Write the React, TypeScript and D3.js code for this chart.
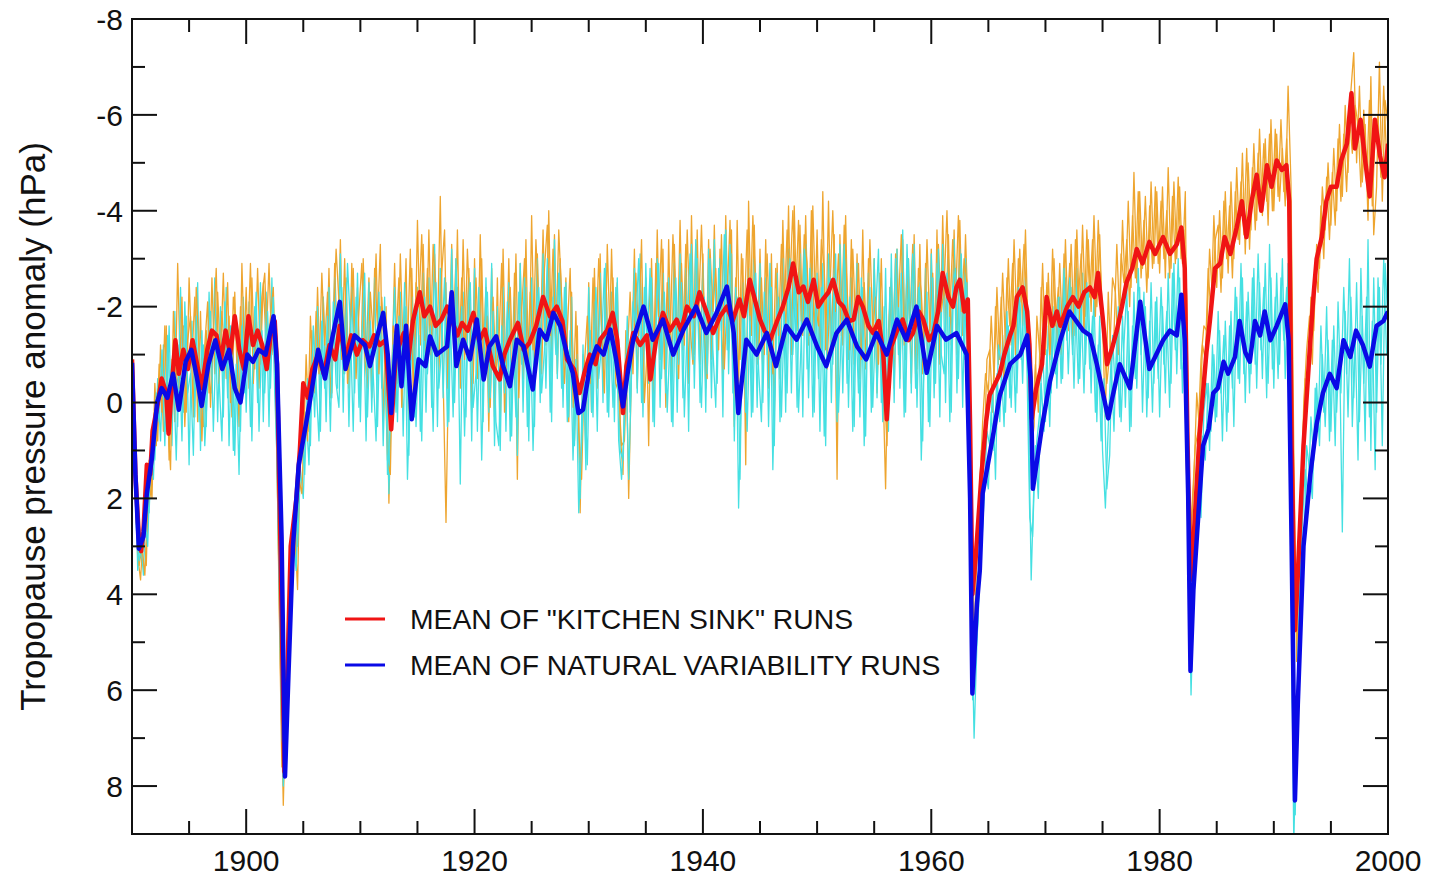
import React from 'react';
import * as d3 from 'd3';

const W = 1435;
const H = 877;
const PLOT = { left: 132, right: 1388, top: 19, bottom: 834 };

const X_DOMAIN: [number, number] = [1890, 2000];
const Y_DOMAIN: [number, number] = [-8, 9];
const X_LABELS = [1900, 1920, 1940, 1960, 1980, 2000];
const X_MINOR = [1895, 1905, 1910, 1915, 1925, 1930, 1935, 1945, 1950, 1955, 1965, 1970, 1975, 1985, 1990, 1995];
const Y_LABELS = [-8, -6, -4, -2, 0, 2, 4, 6, 8];
const Y_MINOR = [-7, -5, -3, -1, 1, 3, 5, 7];

const Y_TITLE = 'Tropopause pressure anomaly (hPa)';
const LEGEND = ['MEAN OF "KITCHEN SINK" RUNS', 'MEAN OF NATURAL VARIABILITY RUNS'];

// individual runs, quarterly values
const RUN_STEP = 0.25;
const RUN_A_START = 1890;
const RUN_B_START = 1890.125;

const kitchenSinkRunA: number[] = [
  -0.5, 1.5, 3.2, 3.7, 2.6, 3.4, 1.2, 2.0, -0.4, 0.8, -1.2, 0.6, -1.6, 1.2, -0.9, 0.4,
  -2.9, -0.5, -1.6, 0.2, -2.6, -0.9, -2.2, 0.4, -1.9, 0.5, -1.5, -0.2, -2.6, -0.6, -2.3, -0.9,
  -2.7, -0.5, -1.8, 0.3, -2.3, -0.2, -2.0, -0.6,
  -2.4, -0.3, -2.6, -0.7, -2.8, -0.8, -2.5, -1.2, -2.9, -1.0, -1.6, 2.0, 5.5, 8.4, 6.0, 4.2,
  3.0, 2.6, 3.9, 0.8, 1.2, -1.0, 0.6, -1.5, -0.2, -2.4, -0.4, -2.2, -0.5, -2.8, -0.2, -2.9,
  -1.0, -3.4, -0.6, -2.6, -0.3, -2.9, -0.8, -2.4,
  -0.2, -3.0, -0.9, -2.6, -0.1, -2.8, -1.6, -3.3, 0.4, -2.0, 2.1, -0.5, -2.9, -0.4, -3.1, -1.0,
  -3.0, 0.6, -2.8, -0.6, -3.8, -1.2, -3.3, -0.8, -3.6, -0.9, -3.1, -1.4, -4.3, -0.5, 2.5, -1.0,
  -3.3, -0.7, -3.6, -0.3, -3.4, -1.0, -2.8, 0.2,
  -3.0, -0.5, -3.5, -0.9, -2.4, 0.6, -2.8, 0.3, -2.6, 0.5, -3.2, -0.4, -3.0, -0.2, -2.7, 1.6,
  -2.9, -0.5, -3.4, -0.3, -3.9, -0.8, -3.1, -1.0, -3.6, -1.2, -4.0, -0.9, -3.5, -0.6, -3.0, -1.1,
  -2.6, 0.4, -2.3, 0.8, -1.6, 2.3, -1.0, 1.0,
  -2.5, 0.2, -2.8, -0.3, -3.1, -0.4, -2.7, -0.6, -3.2, -0.9, -2.5, 0.6, 1.5, -1.5, 2.0, -0.8,
  -3.2, -0.3, -2.9, -0.7, -2.6, 0.9, -3.0, -0.5, -3.6, -0.9, -3.2, 0.1, -3.4, -0.6, -3.3, -1.0,
  -3.8, -1.1, -3.3, -0.4, -3.9, -1.0, -3.6, -0.8,
  -3.1, -0.3, -3.4, -0.9, -3.7, -0.8, -3.2, -0.5, -3.9, -1.2, -3.6, 0.5, -3.8, -0.9, -3.0, 1.3,
  -4.2, -1.4, -3.7, -0.8, -3.2, -0.6, -3.4, -0.3, -3.1, 0.3, -2.9, -0.5, -3.8, -1.2, -4.1, -1.0,
  -4.1, -1.5, -3.7, -1.4, -3.9, -1.2, -4.0, -1.3,
  -3.6, -0.9, -4.4, -1.1, -4.2, -1.0, -3.5, 1.6, -3.5, -1.2, -3.9, -0.9, -3.4, -0.8, -3.1, -0.5,
  -3.6, -0.7, -3.0, -0.4, -3.0, -0.2, -2.7, -0.6, 1.8, -1.5, -2.6, -0.3, -3.2, -0.5, -3.4, -0.9,
  -3.0, -0.4, -3.5, -0.7, -3.3, -0.6, -2.9, -0.2,
  -3.2, -0.5, -3.6, -0.8, -3.9, -1.5, -3.5, -1.2, -3.6, -1.0, -3.8, -1.4, -3.5, -1.6, 3.0, 4.8,
  3.2, 1.8, 0.4, -0.6, -0.2, -1.8, -0.5, -2.4, -0.9, -2.7, -1.2, -3.0, -1.2, -3.4, -1.6, -3.2,
  -1.6, -3.6, -1.2, 1.0, 0.5, -1.8, -1.0, -2.9,
  -1.0, -2.7, -0.9, -3.0, -1.2, -2.9, -1.3, -3.4, -1.5, -3.3, -1.4, -3.6, -1.6, -3.7, -1.8, -3.4,
  -1.9, -3.9, -2.0, -3.5, -1.6, 0.3, -2.3, -0.8, -1.4, -3.3, -1.7, -3.8, -2.2, -4.2, -2.4, -4.8,
  -2.5, -4.4, -2.8, -4.3, -2.6, -4.6, -2.9, -4.4,
  -2.7, -4.5, -2.6, -4.9, -2.8, -4.6, -3.0, -4.5, -2.9, -4.4, 2.0, 2.8, 1.6, -0.2, 0.6, -1.2,
  -0.9, -2.8, -1.8, -3.9, -2.4, -4.0, -2.6, -4.4, -2.7, -4.6, -3.0, -4.9, -3.3, -5.2, -3.1, -5.0,
  -3.6, -5.4, -3.8, -5.7, -3.9, -5.5, -3.7, -5.9,
  -4.0, -5.6, -4.2, -5.3, -4.1, -6.6, -4.6, 1.0, 5.4, 3.2, 1.0, -0.5, -0.4, -2.2, -1.5, -3.3,
  -2.8, -4.5, -3.6, -5.0, -3.7, -5.3, -4.0, -5.8, -4.3, -6.2, -4.8, -6.5, -7.3, -5.0, -6.6, -4.6,
  -5.8, -3.8, -6.8, -3.5, -4.5, -7.1, -4.2, -6.3,
  -5.8,
];

const kitchenSinkRunB: number[] = [
  0.5, 2.4, 3.4, 3.0, 3.6, 2.2, 1.9, 0.9, 0.9, -0.8, 0.2, -1.6, 0.3, 1.4, -1.9, -0.6,
  -0.3, -2.2, 0.5, -1.3, -1.8, 0.3, -2.4, -1.0, 0.8, -1.2, -2.1, 0.1, -1.4, -2.8, -0.4, -1.9,
  -0.9, -2.5, 0.0, -2.2, -1.5, 0.5, -2.9, -0.8,
  -1.1, -2.9, -0.4, -1.8, -0.3, -2.2, -2.7, -0.9, -1.8, -2.4, -0.2, 4.0, 7.6, 7.2, 5.0, 3.5,
  2.4, 3.3, 1.6, 1.9, 0.2, 0.8, -1.8, -0.3, -1.9, -0.6, -2.7, -1.2, -2.3, -0.1, -1.6, -3.2,
  -2.1, -0.9, -3.0, -0.4, -1.7, -2.8, -0.5, -1.9,
  -2.9, -1.0, -0.3, -2.3, -1.4, -3.1, -0.6, -2.2, -1.0, 1.2, 1.5, -1.6, -1.3, -2.6, 0.1, -2.0,
  -1.1, -3.2, -0.2, -2.5, -2.0, -3.5, -1.3, -2.8, -1.0, -3.3, -2.2, -0.6, -2.7, -3.6, -0.3, -2.1,
  -1.4, -3.0, -0.8, -2.6, -0.9, -3.2, -1.7, -0.4,
  -2.6, -1.1, -3.0, -0.5, -1.8, 0.1, -2.2, -0.6, -1.2, -2.9, 0.2, -1.7, -2.4, -0.6, -3.1, -0.1,
  -1.9, -3.0, -0.7, -2.3, -1.1, -3.4, -2.0, -0.6, -2.8, -3.7, -1.4, -3.2, -1.2, -3.6, -2.2, -0.4,
  -1.5, -2.8, 0.1, -1.9, 0.6, 1.6, -0.8, -1.8,
  -0.4, -2.6, -1.2, -3.0, -1.6, -0.2, -3.3, -1.3, -2.6, -0.4, -0.2, 0.9, 0.8, -0.9, -2.3, -0.6,
  -2.7, -1.4, -3.4, 0.0, -1.1, -2.4, -0.2, -2.9, -1.8, -3.4, -0.7, -2.5, -1.3, -3.5, -2.1, -0.5,
  -2.9, -1.2, -3.6, -1.6, -0.8, -3.3, -1.9, -3.7,
  -1.6, -0.5, -3.2, -1.9, -2.8, -1.1, -3.5, -0.7, -2.2, -3.8, -1.0, -2.6, -0.4, -3.1, -1.8, -3.6,
  -1.7, -3.9, -2.3, -0.9, -2.6, -1.0, -3.1, -1.3, -0.6, -2.8, -1.4, -3.3, -1.9, -3.6, -2.5, -4.0,
  -2.2, -3.8, -1.7, -3.5, -2.9, -1.4, -4.1, -2.0,
  -1.6, -3.4, -2.8, -0.7, -2.3, -4.0, -1.9, -3.1, -1.4, -3.7, -2.4, -1.1, -3.2, -1.6, -2.9, -0.9,
  -2.5, -1.2, -3.4, -1.5, -2.2, -0.8, -3.0, -0.4, 0.9, -2.4, -1.0, -3.1, -2.0, -3.5, -1.2, -2.7,
  -1.6, -3.3, -0.6, -2.8, -2.3, -1.1, -3.4, -1.5,
  -2.7, -0.9, -3.3, -1.9, -2.4, -4.0, -1.8, -3.4, -2.1, -3.9, -1.9, -3.0, -2.5, 1.0, 4.2, 3.5,
  2.6, 1.0, 1.2, -0.9, -1.1, 0.2, -2.0, -0.8, -2.2, -0.4, -2.6, -1.6, -2.9, -1.0, -3.0, -2.1,
  -3.3, -2.0, -0.2, 0.3, -0.8, 0.2, -2.4, -1.1,
  -2.5, -1.0, -3.2, -1.6, -2.4, -1.0, -3.1, -1.8, -2.9, -1.2, -3.4, -2.1, -3.1, -1.5, -3.6, -2.2,
  -3.4, -1.8, -3.8, -2.4, -1.2, -0.4, -1.0, -2.6, -2.3, -1.0, -3.1, -2.5, -3.4, -2.0, -3.9, -2.6,
  -4.4, -2.6, -3.8, -2.3, -4.1, -2.8, -4.5, -2.9,
  -4.2, -3.0, -4.0, -2.6, -4.3, -2.9, -4.7, -3.0, -3.6, -2.2, 3.2, 2.0, 0.9, 0.6, -0.9, -1.6,
  -1.5, -3.2, -2.2, -3.4, -3.7, -2.3, -4.2, -3.0, -4.1, -2.6, -4.4, -3.4, -4.6, -3.5, -5.3, -3.2,
  -4.9, -3.6, -5.2, -4.1, -5.4, -4.2, -5.6, -4.0,
  -5.7, -4.3, -5.9, -4.4, -5.5, -4.0, 2.6, 4.6, 4.0, 2.1, 0.0, -1.1, -1.8, -0.8, -2.9, -2.3,
  -4.1, -3.0, -4.7, -3.4, -4.8, -3.7, -5.5, -4.2, -5.6, -4.4, -6.0, -5.2, -6.2, -5.8, -4.5, -6.1,
  -4.6, -6.3, -4.1, -5.6, -6.0, -4.7, -6.6, -5.1,
];

const naturalRunA: number[] = [
  -1.0, 1.0, 3.5, 2.8, 3.6, 1.8, 2.3, 0.6, 1.2, -0.5, 0.8, -1.2, 0.6, -1.6, 0.9, -1.9,
  0.5, -2.4, 0.2, -1.8, 1.3, -1.7, 0.3, -2.5, 1.0, -1.2, 0.5, -2.3, -0.2, -2.6, 0.4, -2.0,
  0.3, -2.4, 0.9, -1.6, 1.1, -1.3, 0.6, -2.2,
  0.2, -2.1, 0.8, -2.0, 0.0, -2.5, 0.4, -2.3, 0.5, -2.6, -0.2, 1.5, 5.0, 8.0, 6.4, 3.8,
  4.2, 2.2, 3.0, 1.4, 2.0, 0.2, 1.3, -1.0, 0.3, -2.0, 0.6, -2.2, 0.4, -2.4, -0.1, -2.6,
  -0.3, -3.1, 0.2, -2.5, 0.5, -2.4, -0.2, -2.7,
  0.4, -2.2, 0.8, -2.5, 0.2, -2.6, 0.5, -2.0, 0.9, -1.4, 1.9, -0.6, -2.4, 0.4, -2.3, 0.7,
  -2.0, 1.1, -2.2, 0.3, -2.4, 0.6, -2.7, 0.2, -2.6, 0.1, -3.3, 0.5, -2.8, -0.1, -2.5, 0.4,
  -3.2, 0.0, -2.4, 1.7, -2.3, 0.3, -2.6, 0.8,
  -2.8, 0.6, -2.1, 0.4, -2.6, 0.2, -2.9, 0.9, -2.0, 1.0, -2.4, 0.6, -2.5, 0.7, -2.2, 1.1,
  -2.9, 0.2, -2.4, 0.8, -2.6, 0.5, -3.0, 0.0, -3.1, -0.3, -2.8, 0.4, -3.4, -0.5, -2.9, 0.1,
  -2.5, 0.3, -2.2, 0.9, -1.0, 2.0, -1.2, 1.4,
  -2.4, 0.2, -2.1, 0.6, -2.7, 0.0, -2.9, 0.3, -2.3, 0.4, -2.6, 1.0, 1.2, -1.0, 1.6, -0.6,
  -2.8, -0.2, -3.1, 0.3, -2.9, -0.4, -2.6, 0.5, -3.0, 0.1, -2.7, -0.2, -2.6, 0.4, -2.9, 0.2,
  -3.1, -0.1, -2.8, 0.6, -3.3, -0.3, -3.0, 0.0,
  -2.9, 0.2, -3.2, -0.1, -3.4, -0.4, -3.0, 0.3, -3.6, -0.6, -3.1, 0.8, -2.2, 1.6, -2.5, 0.2,
  -2.8, 0.3, -3.0, 0.1, -2.9, 0.0, -2.6, 0.5, -2.4, 0.9, -2.7, 0.4, -3.0, 0.2, -3.2, -0.2,
  -2.8, 0.1, -3.1, 0.3, -3.3, -0.1, -2.9, 0.2,
  -2.7, 0.6, -2.9, 0.9, -3.1, 0.0, -2.8, 0.4, -3.3, -0.2, -3.0, 0.1, -2.6, 0.5, -2.9, 0.3,
  -2.4, 0.7, -2.7, 0.2, -3.0, -0.1, -2.5, 0.4, -2.8, 0.6, -3.1, 0.0, -3.2, -0.3, -3.6, 0.2,
  -3.0, -0.2, -3.3, 0.1, -2.5, 0.8, -2.8, 0.4,
  -3.1, -0.1, -2.9, 0.3, -3.3, 0.0, -3.0, 0.2, -3.4, -0.2, -3.2, 0.1, -3.0, 0.3, 4.0, 7.0,
  5.0, 3.6, 2.6, 1.4, 1.8, 0.2, 1.0, -0.6, 0.4, -1.4, 0.2, -1.6, 0.1, -2.0, -0.2, -2.3,
  -0.4, -2.6, -0.1, 3.7, 1.6, 0.8, 0.2, -1.2,
  0.4, -1.6, -0.2, -2.0, -0.3, -2.2, -0.5, -2.6, -0.6, -2.4, -0.3, -2.8, -0.5, -2.7, -0.8, -2.4,
  -0.2, -2.3, 0.4, -1.8, 1.0, 2.2, 0.5, -0.9, 0.6, -1.4, 0.3, -1.8, 0.1, -1.9, 0.5, -2.3,
  -0.3, -2.4, 0.2, -2.0, -0.1, -2.5, -0.4, -2.2,
  0.3, -2.0, -0.2, -2.7, -0.4, -2.9, -0.6, -2.6, -0.2, -2.4, 2.5, 6.1, 3.8, 2.0, 1.5, 0.7,
  1.2, -0.4, 0.6, -1.0, 0.3, -1.5, 0.8, -1.7, 0.2, -1.9, 0.5, -2.2, -0.4, -2.6, 0.0, -2.3,
  -0.6, -2.8, -0.3, -2.5, -0.5, -2.9, -0.4, -2.6,
  -0.3, -2.7, -0.8, -3.0, -0.5, -2.9, 3.5, 9.2, 6.5, 4.2, 2.5, 1.4, 2.0, 0.3, 1.2, -0.4,
  0.9, -1.0, 0.5, -1.3, 0.6, -1.6, 0.2, -1.2, 2.7, -1.9, 0.3, -2.2, -0.1, -2.5, 0.4, -1.8,
  0.8, -3.4, 1.0, -2.6, 0.2, -2.4, 0.9, -2.9,
  -1.6,
];

const naturalRunB: number[] = [
  0.2, 2.6, 3.3, 3.0, 2.4, 3.0, 1.0, 1.6, -0.2, 0.4, -1.1, 0.9, -1.4, 0.2, -0.8, 1.2,
  -1.2, 0.8, -2.1, -0.2, -0.6, 1.1, -1.8, 0.4, -1.5, 0.9, -0.4, -1.9, 0.6, -1.4, -0.5, 0.8,
  -2.1, -0.1, -1.6, 1.0, -0.8, 1.5, -1.6, -0.2,
  -1.7, 0.5, -0.9, -2.3, 0.6, -1.5, -0.2, -1.9, -0.3, -2.2, 0.4, 3.6, 7.0, 7.4, 4.6, 3.2,
  2.8, 3.5, 1.6, 0.8, 1.5, -0.5, 0.9, -1.6, -0.4, 0.8, -1.7, -0.3, -1.8, 0.6, -2.1, -0.4,
  0.1, -2.4, -0.6, -2.9, -1.6, 0.6, -2.2, 0.1,
  -1.3, -2.7, 0.3, -1.7, -0.6, 0.8, -2.3, -0.3, -2.2, 1.5, 0.4, -1.2, 0.2, -1.8, -0.3, -2.5,
  1.6, -0.4, -1.9, 0.5, -1.4, 0.8, -2.2, -0.6, -1.6, 0.6, -2.5, -0.3, -1.2, -2.6, 0.5, -1.8,
  0.3, -3.0, -0.8, -2.0, 0.7, -1.5, -2.5, 0.1,
  -0.6, -2.4, 1.2, -1.4, -2.3, -0.1, -1.9, 0.4, 0.9, -1.6, -0.2, -2.1, 0.8, -1.3, 0.3, -2.3,
  -0.8, -2.6, 0.5, -1.6, 1.0, -1.2, -2.4, -0.2, -1.1, -3.0, 0.2, -2.2, -1.0, -2.7, -0.3, -2.4,
  0.4, -1.5, 1.2, -0.9, 2.3, 0.9, -0.6, 1.3,
  -1.5, 0.3, -2.4, -0.5, -1.2, -2.8, 0.2, -1.6, 0.1, -2.4, 0.8, 1.6, 0.5, -1.8, 0.2, -2.1,
  -1.6, -3.0, 0.0, -2.4, -1.2, -2.8, 0.4, -1.5, -2.9, -0.5, -2.3, 0.2, -1.4, 0.5, -2.6, -0.8,
  -2.5, 0.3, -1.6, -3.1, -0.9, -3.4, -1.3, 0.1,
  -2.2, -0.6, -3.0, -1.1, 0.1, -2.8, -1.5, -3.5, -1.1, -3.3, -0.2, -2.4, 2.2, -0.4, -2.1, 0.6,
  -1.8, 0.2, -2.7, -0.7, 0.4, -2.3, -1.0, -2.9, 1.4, -1.2, -2.2, 0.3, -1.9, -0.2, -3.0, -1.0,
  -2.5, 0.2, -1.4, -3.2, -0.7, -2.8, 0.3, -2.1,
  -0.5, -2.4, 0.7, -1.3, -2.6, -0.8, -3.1, 0.2, -1.5, -3.3, -0.4, -2.2, 0.6, -1.9, -0.2, -2.6,
  0.9, -1.5, -2.4, 0.1, -1.8, -3.2, 0.0, -2.0, 0.2, -2.4, -1.1, -3.0, -1.0, -2.7, 0.3, -3.3,
  -1.3, -3.1, -0.3, -2.4, 1.2, -1.0, -2.3, 0.5,
  -2.6, -0.4, -3.2, -1.0, -0.6, -2.7, 0.4, -2.4, -2.8, -0.5, -3.1, -0.9, -2.5, 2.5, 6.2, 5.4,
  4.4, 2.2, 2.0, 0.6, 0.9, -0.3, 1.6, -1.2, -0.8, 0.5, -1.9, -0.1, -1.6, 0.2, -2.4, -0.9,
  -2.2, -0.8, 2.4, 2.8, 0.9, 2.0, -0.4, 0.6,
  -1.1, 0.5, -1.8, -0.6, -2.2, -0.4, -2.8, -1.3, -2.6, -1.0, -2.2, -0.4, -2.1, -0.2, -2.5, -0.7,
  -1.8, 0.2, -1.2, 0.8, -0.5, 1.8, 1.1, -1.4, -0.2, -2.0, 0.4, -1.2, -2.4, 0.6, -1.6, -0.5,
  -2.8, -1.0, -2.3, 0.3, -1.7, 0.2, -2.1, -0.5,
  -2.4, -0.8, -1.9, 0.1, -2.7, -1.1, -3.0, -0.7, -2.5, 0.2, 4.6, 4.2, 2.9, 1.2, 2.4, 0.2,
  -0.4, 1.0, -1.2, 0.4, -1.9, -0.2, -1.4, 0.6, -1.6, -0.3, -2.4, -0.5, -2.9, -0.6, -2.1, -0.2,
  -2.6, -0.8, -3.1, -1.1, -2.4, -0.1, -3.3, -0.7,
  -2.2, -0.5, -2.6, -1.3, -2.4, -0.8, 6.2, 8.6, 5.3, 3.1, 3.3, 0.9, 1.4, 2.0, -0.3, 0.6,
  -1.6, 0.2, -2.0, 0.8, -1.3, 0.9, -2.1, -0.2, -2.4, -0.6, -3.0, 0.5, -1.4, 1.2, -2.8, -0.4,
  -2.2, 0.3, -1.7, 1.4, -2.6, -0.8, -3.0, -1.0,
];

// ensemble means [year, hPa]
const kitchenSinkMean: [number, number][] = [
  [1890.0, -0.9], [1890.3, 1.5], [1890.6, 2.8], [1890.8, 3.1], [1891.0, 2.7], [1891.3, 1.3], [1891.6, 1.5], [1891.8, 0.6],
  [1892.2, 0.1], [1892.6, -0.5], [1893.0, -0.2], [1893.2, 0.65], [1893.5, -0.4], [1893.8, -1.3], [1894.1, -0.6], [1894.5, -1.1],
  [1894.9, -0.7], [1895.3, -1.3], [1895.7, -0.8], [1896.1, -0.3], [1896.6, -1.1], [1897.0, -1.5], [1897.4, -1.4], [1897.8, -0.9],
  [1898.2, -1.5], [1898.6, -1.0], [1899.0, -1.8], [1899.4, -1.1], [1899.8, -0.7], [1900.2, -1.8], [1900.6, -1.2], [1901.0, -1.5],
  [1901.4, -1.2], [1901.8, -0.7], [1902.2, -1.5], [1902.5, -1.7], [1902.7, -0.8], [1903.0, 3.0], [1903.35, 7.7], [1903.6, 5.8],
  [1903.9, 3.0], [1904.1, 2.6], [1904.4, 2.0], [1904.7, 1.0], [1905.0, -0.4], [1905.4, -0.1], [1905.8, -0.7], [1906.3, -1.0],
  [1906.8, -0.6], [1907.3, -1.2], [1907.8, -0.9], [1908.2, -1.6], [1908.7, -0.9], [1909.2, -1.4], [1909.7, -1.0], [1910.2, -1.3],
  [1910.8, -1.17], [1911.2, -1.4], [1911.7, -1.2], [1912.2, -1.3], [1912.7, 0.56], [1913.1, -1.0], [1913.8, -1.45], [1914.2, -0.9],
  [1914.6, -1.7], [1915.2, -2.3], [1915.6, -1.8], [1916.1, -2.0], [1916.6, -1.6], [1917.1, -1.73], [1917.6, -2.0], [1918.0, -1.73],
  [1918.5, -1.4], [1918.9, -1.66], [1919.4, -1.5], [1919.9, -1.87], [1920.4, -1.3], [1920.9, -1.52], [1921.6, -0.76], [1922.2, -0.48],
  [1922.6, -1.0], [1923.1, -1.31], [1923.8, -1.66], [1924.3, -1.1], [1924.8, -1.24], [1925.4, -1.6], [1926.0, -2.2], [1926.6, -1.8],
  [1927.2, -2.0], [1927.7, -1.7], [1928.1, -0.9], [1928.7, -0.7], [1929.2, -0.2], [1929.6, -0.6], [1930.1, -1.0], [1930.6, -0.8],
  [1931.0, -1.31], [1931.6, -1.5], [1932.1, -1.87], [1932.5, -1.3], [1932.8, -0.4], [1933.0, 0.22], [1933.3, -0.76], [1933.9, -1.45],
  [1934.5, -1.2], [1935.1, -1.4], [1935.4, -0.48], [1935.9, -1.3], [1936.5, -1.87], [1937.1, -1.5], [1937.7, -1.73], [1938.1, -1.5],
  [1938.6, -2.0], [1939.2, -1.8], [1939.7, -2.3], [1940.3, -1.9], [1940.9, -1.45], [1941.5, -1.8], [1942.1, -2.0], [1942.6, -1.7],
  [1943.2, -2.15], [1943.6, -1.8], [1944.1, -2.56], [1944.6, -2.1], [1945.0, -1.73], [1945.4, -1.5], [1945.9, -1.31], [1946.5, -1.7],
  [1947.0, -2.0], [1947.5, -2.4], [1947.9, -2.9], [1948.4, -2.3], [1948.8, -2.42], [1949.2, -2.1], [1949.7, -2.56], [1950.1, -2.0],
  [1950.5, -2.15], [1951.0, -2.3], [1951.4, -2.56], [1951.9, -2.1], [1952.3, -2.0], [1952.8, -1.7], [1953.2, -1.73], [1953.6, -2.2],
  [1954.0, -2.0], [1954.5, -1.6], [1954.9, -1.45], [1955.4, -1.7], [1955.8, -1.0], [1956.1, 0.35], [1956.5, -1.17], [1957.0, -1.5],
  [1957.5, -1.73], [1958.0, -1.3], [1958.4, -1.45], [1958.9, -1.9], [1959.3, -1.73], [1959.8, -1.3], [1960.2, -1.45], [1960.6, -1.9],
  [1961.0, -2.7], [1961.5, -2.2], [1961.9, -2.0], [1962.2, -2.4], [1962.5, -2.56], [1962.9, -1.9], [1963.2, -2.15], [1963.4, 0.5],
  [1963.6, 4.0], [1963.9, 3.2], [1964.4, 1.5], [1964.8, 0.4], [1965.1, -0.15], [1965.6, -0.4], [1966.0, -0.6], [1966.4, -1.0],
  [1966.9, -1.4], [1967.2, -1.6], [1967.5, -2.2], [1968.0, -2.4], [1968.4, -1.9], [1968.6, -1.2], [1968.8, 0.33], [1969.2, -0.3],
  [1969.7, -0.8], [1970.1, -2.2], [1970.6, -1.6], [1971.0, -1.9], [1971.3, -1.6], [1971.9, -2.0], [1972.4, -2.2], [1972.9, -2.0],
  [1973.4, -2.3], [1973.9, -2.4], [1974.3, -2.2], [1974.6, -2.7], [1975.0, -1.8], [1975.4, -0.8], [1975.8, -1.1], [1976.25, -1.5],
  [1976.7, -2.0], [1977.1, -2.5], [1977.6, -2.8], [1978.0, -3.2], [1978.5, -2.9], [1979.1, -3.35], [1979.6, -3.1], [1980.3, -3.45],
  [1980.9, -3.1], [1981.5, -3.3], [1981.9, -3.65], [1982.2, -2.8], [1982.45, 0.9], [1982.7, 3.7], [1982.96, 2.9], [1983.25, 1.7],
  [1983.5, 0.65], [1983.8, -0.2], [1984.1, -1.05], [1984.4, -1.7], [1984.85, -2.8], [1985.3, -2.9], [1985.7, -3.45], [1986.2, -3.1],
  [1986.75, -3.65], [1987.2, -4.2], [1987.6, -3.45], [1988.06, -4.2], [1988.5, -4.75], [1988.9, -4.0], [1989.4, -4.95], [1989.8, -4.5],
  [1990.25, -5.05], [1990.7, -4.85], [1991.1, -4.95], [1991.35, -4.2], [1991.56, 0.9], [1991.85, 4.75], [1992.1, 3.6], [1992.6, 0.9],
  [1992.9, -0.2], [1993.2, -1.3], [1993.45, -2.15], [1993.75, -3.0], [1994.2, -3.45], [1994.6, -4.2], [1995.0, -4.5], [1995.5, -4.5],
  [1995.9, -5.05], [1996.4, -5.4], [1996.8, -6.45], [1997.1, -5.3], [1997.6, -5.9], [1998.0, -5.05], [1998.4, -4.3], [1998.85, -5.9],
  [1999.3, -5.15], [1999.7, -4.7], [2000.0, -5.4],
];

const naturalMean: [number, number][] = [
  [1890.0, -0.83], [1890.3, 1.5], [1890.6, 3.05], [1891.0, 2.8], [1891.3, 1.9], [1891.75, 1.15], [1892.2, 0.0], [1892.6, -0.3],
  [1893.1, -0.1], [1893.6, -0.6], [1894.1, 0.15], [1894.7, -0.85], [1895.2, -1.1], [1895.7, -0.5], [1896.1, 0.07], [1896.7, -0.8],
  [1897.3, -1.3], [1897.9, -0.7], [1898.5, -1.1], [1899.0, -0.3], [1899.5, 0.0], [1900.1, -1.0], [1900.6, -0.85], [1901.1, -1.1],
  [1901.7, -1.0], [1902.4, -1.8], [1902.7, -0.8], [1903.1, 2.8], [1903.4, 7.8], [1903.7, 5.7], [1904.1, 3.0], [1904.6, 1.3],
  [1905.2, 0.5], [1905.7, -0.2], [1906.3, -1.1], [1906.9, -0.5], [1907.5, -1.3], [1908.2, -2.1], [1908.7, -0.7], [1909.5, -1.4],
  [1910.4, -1.2], [1910.84, -0.76], [1911.4, -1.31], [1912.0, -1.87], [1912.4, -1.0], [1912.7, 0.22], [1913.2, -1.6], [1913.6, -0.34],
  [1914.0, -1.6], [1914.5, 0.35], [1915.1, -0.9], [1915.7, -0.76], [1916.1, -1.38], [1916.7, -1.0], [1917.6, -1.17], [1918.0, -2.3],
  [1918.4, -0.76], [1919.0, -1.31], [1919.6, -0.9], [1920.2, -1.73], [1920.8, -0.48], [1921.3, -1.17], [1921.9, -1.38], [1922.5, -0.76],
  [1923.1, -0.34], [1923.7, -1.31], [1924.3, -1.17], [1925.1, -0.27], [1925.7, -1.52], [1926.3, -1.31], [1926.9, -1.87], [1927.5, -1.6],
  [1928.1, -1.0], [1928.6, -0.62], [1929.1, 0.22], [1929.5, 0.15], [1930.1, -0.76], [1930.7, -1.17], [1931.3, -1.0], [1931.9, -1.52],
  [1932.4, -0.9], [1933.0, 0.08], [1933.4, -0.6], [1933.9, -1.31], [1934.8, -2.0], [1935.6, -1.31], [1936.5, -1.73], [1937.4, -1.0],
  [1938.3, -1.52], [1939.4, -2.0], [1940.3, -1.45], [1941.2, -1.87], [1942.1, -2.42], [1942.7, -1.45], [1943.1, 0.22], [1943.8, -1.31],
  [1944.7, -1.0], [1945.6, -1.45], [1946.4, -0.76], [1947.3, -1.6], [1948.2, -1.31], [1949.1, -1.73], [1950.0, -1.17], [1950.8, -0.76],
  [1951.7, -1.45], [1952.6, -1.73], [1953.5, -1.17], [1954.3, -0.9], [1955.2, -1.45], [1956.1, -1.0], [1957.0, -1.73], [1957.8, -1.31],
  [1958.7, -2.0], [1959.6, -0.62], [1960.5, -1.6], [1961.3, -1.31], [1962.2, -1.45], [1963.1, -1.0], [1963.4, 2.0], [1963.6, 6.07],
  [1964.0, 4.2], [1964.25, 3.5], [1964.5, 1.9], [1965.4, 0.7], [1966.0, -0.15], [1966.9, -0.8], [1967.8, -1.0], [1968.4, -1.4],
  [1968.7, -0.5], [1968.9, 1.8], [1969.7, 0.5], [1970.4, -0.45], [1971.3, -1.3], [1972.1, -1.9], [1973.3, -1.5], [1973.9, -1.4],
  [1974.5, -0.8], [1975.5, 0.33], [1975.9, -0.15], [1976.5, -0.8], [1977.4, -0.3], [1978.3, -2.1], [1979.1, -0.7], [1980.3, -1.3],
  [1980.9, -1.5], [1981.5, -1.4], [1981.9, -2.25], [1982.2, -1.3], [1982.5, 1.95], [1982.7, 5.6], [1982.96, 3.9], [1983.4, 2.3],
  [1983.8, 0.9], [1984.3, 0.55], [1984.7, -0.2], [1985.1, -0.3], [1985.6, -0.85], [1986.0, -0.6], [1986.6, -0.95], [1987.0, -1.7],
  [1987.5, -1.05], [1987.9, -0.85], [1988.35, -1.7], [1988.8, -1.4], [1989.2, -1.9], [1989.7, -1.3], [1990.25, -1.6], [1991.0, -2.05],
  [1991.3, -1.3], [1991.56, 3.0], [1991.85, 8.3], [1992.1, 6.3], [1992.6, 3.0], [1993.2, 1.5], [1993.75, 0.45], [1994.3, -0.2],
  [1994.9, -0.6], [1995.5, -0.3], [1996.1, -1.3], [1996.7, -0.95], [1997.2, -1.5], [1997.8, -1.2], [1998.4, -0.75], [1999.0, -1.6],
  [1999.6, -1.7], [2000.0, -1.9],
];

const COLORS = {
  kitchenRun: '#eea52f',
  naturalRun: '#45e0e2',
  kitchenMean: '#f01414',
  naturalMean: '#0a0ae6',
};

const FONT = '"Liberation Sans", Arial, Helvetica, sans-serif';

export default function App() {
  const x = d3.scaleLinear().domain(X_DOMAIN).range([PLOT.left, PLOT.right]);
  const y = d3.scaleLinear().domain(Y_DOMAIN).range([PLOT.top, PLOT.bottom]);

  const runLine = (start: number) =>
    d3
      .line<number>()
      .x((_, i) => x(start + i * RUN_STEP))
      .y((d) => y(d));
  const meanLine = d3
    .line<[number, number]>()
    .x((d) => x(d[0]))
    .y((d) => y(d[1]));

  const majLen = 25;
  const minLen = 13;

  return (
    <svg
      width={W}
      height={H}
      style={{ position: 'absolute', left: 0, top: 0, background: '#fff' }}
      fontFamily={FONT}
    >
      <defs>
        <clipPath id="plotClip">
          <rect x={PLOT.left} y={PLOT.top} width={PLOT.right - PLOT.left} height={PLOT.bottom - PLOT.top} />
        </clipPath>
      </defs>
      <rect width={W} height={H} fill="#fff" />

      <g clipPath="url(#plotClip)" fill="none" strokeLinejoin="round">
        <path d={runLine(RUN_A_START)(kitchenSinkRunA) || ''} stroke={COLORS.kitchenRun} strokeWidth={1.3} />
        <path d={runLine(RUN_A_START)(naturalRunA) || ''} stroke={COLORS.naturalRun} strokeWidth={1.3} />
        <path d={runLine(RUN_B_START)(kitchenSinkRunB) || ''} stroke={COLORS.kitchenRun} strokeWidth={1.3} />
        <path d={runLine(RUN_B_START)(naturalRunB) || ''} stroke={COLORS.naturalRun} strokeWidth={1.3} />
        <path d={meanLine(kitchenSinkMean) || ''} stroke={COLORS.kitchenMean} strokeWidth={4.5} />
        <path d={meanLine(naturalMean) || ''} stroke={COLORS.naturalMean} strokeWidth={4.5} />
      </g>

      {/* frame */}
      <rect
        x={PLOT.left}
        y={PLOT.top}
        width={PLOT.right - PLOT.left}
        height={PLOT.bottom - PLOT.top}
        fill="none"
        stroke="#111"
        strokeWidth={2}
      />

      {/* ticks */}
      <g stroke="#111" strokeWidth={2}>
        {Y_LABELS.map((v) => (
          <g key={'ym' + v}>
            <line x1={PLOT.left} x2={PLOT.left + majLen} y1={y(v)} y2={y(v)} />
            <line x1={PLOT.right} x2={PLOT.right - majLen} y1={y(v)} y2={y(v)} />
          </g>
        ))}
        {Y_MINOR.map((v) => (
          <g key={'yn' + v}>
            <line x1={PLOT.left} x2={PLOT.left + minLen} y1={y(v)} y2={y(v)} />
            <line x1={PLOT.right} x2={PLOT.right - minLen} y1={y(v)} y2={y(v)} />
          </g>
        ))}
        {X_LABELS.map((v) => (
          <g key={'xm' + v}>
            <line x1={x(v)} x2={x(v)} y1={PLOT.bottom} y2={PLOT.bottom - majLen} />
            <line x1={x(v)} x2={x(v)} y1={PLOT.top} y2={PLOT.top + majLen} />
          </g>
        ))}
        {X_MINOR.map((v) => (
          <g key={'xn' + v}>
            <line x1={x(v)} x2={x(v)} y1={PLOT.bottom} y2={PLOT.bottom - minLen} />
            <line x1={x(v)} x2={x(v)} y1={PLOT.top} y2={PLOT.top + minLen} />
          </g>
        ))}
      </g>

      {/* tick labels */}
      <g fontSize={30} fill="#111">
        {Y_LABELS.map((v) => (
          <text key={'yl' + v} x={PLOT.left - 9} y={y(v)} dy="0.36em" textAnchor="end">
            {v}
          </text>
        ))}
        {X_LABELS.map((v) => (
          <text key={'xl' + v} x={x(v)} y={871} textAnchor="middle">
            {v}
          </text>
        ))}
      </g>

      <text
        transform={`translate(32, ${(PLOT.top + PLOT.bottom) / 2}) rotate(-90)`}
        textAnchor="middle"
        dy="0.36em"
        fontSize={35}
        fill="#111"
      >
        {Y_TITLE}
      </text>

      {/* legend */}
      <g fontSize={28.3} fill="#111">
        <line x1={345} x2={385} y1={619} y2={619} stroke={COLORS.kitchenMean} strokeWidth={3} />
        <text x={410} y={619} dy="0.36em">{LEGEND[0]}</text>
        <line x1={345} x2={385} y1={665} y2={665} stroke={COLORS.naturalMean} strokeWidth={3} />
        <text x={410} y={665} dy="0.36em">{LEGEND[1]}</text>
      </g>
    </svg>
  );
}
